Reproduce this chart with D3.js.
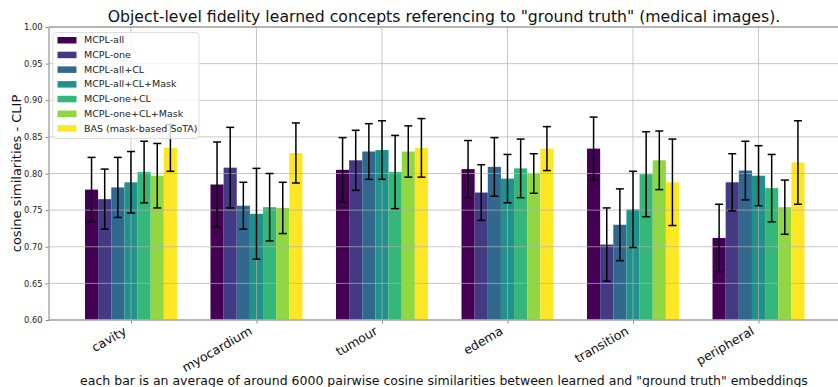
<!DOCTYPE html>
<html>
<head>
<meta charset="utf-8">
<script src="https://cdn.jsdelivr.net/npm/d3@7"></script>
<style>
  html, body { margin: 0; padding: 0; background: #fff; }
  svg { display: block; font-family: "DejaVu Sans", sans-serif; }
</style>
</head>
<body>
<svg id="chart" width="838" height="387"></svg>
<script>
// Regions of the medical images
const categories = ["cavity", "myocardium", "tumour", "edema", "transition", "peripheral"];

// Model variants (one bar per variant within each region)
const seriesNames = [
  "MCPL-all", "MCPL-one", "MCPL-all+CL", "MCPL-all+CL+Mask",
  "MCPL-one+CL", "MCPL-one+CL+Mask", "BAS (mask-based SoTA)"
];
const seriesColors = ["#440154", "#443983", "#31688e", "#21918c", "#35b779", "#90d743", "#fde725"];

// Mean cosine similarity per variant, ordered by category
const mcplAll          = [0.778, 0.785, 0.805, 0.806, 0.834, 0.712];
const mcplOne          = [0.765, 0.808, 0.818, 0.774, 0.703, 0.788];
const mcplAllCL        = [0.781, 0.756, 0.830, 0.809, 0.730, 0.804];
const mcplAllCLMask    = [0.788, 0.745, 0.832, 0.793, 0.751, 0.797];
const mcplOneCL        = [0.802, 0.754, 0.802, 0.807, 0.799, 0.780];
const mcplOneCLMask    = [0.797, 0.753, 0.830, 0.800, 0.818, 0.754];
const bas              = [0.835, 0.828, 0.835, 0.834, 0.788, 0.815];

// Standard deviations (error bar half-lengths)
const mcplAllErr       = [0.044, 0.058, 0.044, 0.039, 0.043, 0.046];
const mcplOneErr       = [0.041, 0.055, 0.041, 0.038, 0.050, 0.039];
const mcplAllCLErr     = [0.041, 0.032, 0.038, 0.040, 0.049, 0.040];
const mcplAllCLMaskErr = [0.042, 0.062, 0.040, 0.033, 0.052, 0.041];
const mcplOneCLErr     = [0.042, 0.046, 0.050, 0.040, 0.058, 0.046];
const mcplOneCLMaskErr = [0.044, 0.035, 0.035, 0.027, 0.040, 0.037];
const basErr           = [0.032, 0.041, 0.040, 0.030, 0.059, 0.057];

const yTicks = [0.60, 0.65, 0.70, 0.75, 0.80, 0.85, 0.90, 0.95, 1.00];

const seriesValues = [mcplAll, mcplOne, mcplAllCL, mcplAllCLMask, mcplOneCL, mcplOneCLMask, bas];
const seriesErrors = [mcplAllErr, mcplOneErr, mcplAllCLErr, mcplAllCLMaskErr, mcplOneCLErr, mcplOneCLMaskErr, basErr];

const svg = d3.select("#chart");
const plot = { left: 49, top: 27, bottom: 320, right: 840.5 };

// Bar layout in category units
const barW = 0.1047;
const nSeries = seriesNames.length;
const groupHalf = barW * nSeries / 2;
const margin = 0.05 * (categories.length - 1 + 2 * groupHalf);

const x = d3.scaleLinear()
  .domain([-groupHalf - margin, categories.length - 1 + groupHalf + margin])
  .range([plot.left, plot.right]);
const y = d3.scaleLinear().domain([0.6, 1.0]).range([plot.bottom, plot.top]);

const barPx = x(barW) - x(0);

// Flatten into one record per bar
const bars = [];
seriesValues.forEach((vals, s) => {
  vals.forEach((v, c) => {
    bars.push({ s, c, v, e: seriesErrors[s][c] });
  });
});
const barX = d => x(d.c - groupHalf + d.s * barW);

svg.append("g").selectAll("rect")
  .data(bars).join("rect")
  .attr("x", barX)
  .attr("y", d => y(d.v))
  .attr("width", barPx)
  .attr("height", d => y(0.6) - y(d.v))
  .attr("fill", d => seriesColors[d.s]);

// Grid lines over the bars
const grid = svg.append("g").attr("stroke", "#b0b0b0").attr("stroke-opacity", 0.7).attr("stroke-width", 1);
grid.selectAll("line.h").data(yTicks).join("line")
  .attr("class", "h")
  .attr("x1", plot.left).attr("x2", plot.right)
  .attr("y1", d => y(d)).attr("y2", d => y(d));
grid.selectAll("line.v").data(categories).join("line")
  .attr("class", "v")
  .attr("x1", (d, i) => x(i)).attr("x2", (d, i) => x(i))
  .attr("y1", plot.top).attr("y2", plot.bottom);

// Error bars
const capHalf = 4;
const err = svg.append("g").attr("stroke", "#000").attr("stroke-width", 1.5);
const errG = err.selectAll("g").data(bars).join("g");
errG.append("line")
  .attr("x1", d => barX(d) + barPx / 2).attr("x2", d => barX(d) + barPx / 2)
  .attr("y1", d => y(d.v + d.e)).attr("y2", d => y(d.v - d.e));
errG.append("line")
  .attr("x1", d => barX(d) + barPx / 2 - capHalf).attr("x2", d => barX(d) + barPx / 2 + capHalf)
  .attr("y1", d => y(d.v + d.e)).attr("y2", d => y(d.v + d.e));
errG.append("line")
  .attr("x1", d => barX(d) + barPx / 2 - capHalf).attr("x2", d => barX(d) + barPx / 2 + capHalf)
  .attr("y1", d => y(d.v - d.e)).attr("y2", d => y(d.v - d.e));

// Axes
const yAxis = d3.axisLeft(y).tickValues(yTicks).tickFormat(d3.format(".2f")).tickSize(3.5).tickPadding(3);
const yg = svg.append("g").attr("transform", `translate(${plot.left},0)`).call(yAxis);
yg.select(".domain").remove();
yg.selectAll("line").attr("stroke", "#888");
yg.selectAll("text").attr("font-size", 8.3).attr("fill", "#222").attr("font-family", "DejaVu Sans");

const xAxis = d3.axisBottom(x).tickValues(d3.range(categories.length)).tickFormat(i => categories[i]).tickSize(3.5);
const xg = svg.append("g").attr("transform", `translate(0,${plot.bottom})`).call(xAxis);
xg.select(".domain").remove();
xg.selectAll("line").attr("stroke", "#888");
// Category labels rotated 30°, right end hanging just below each tick
xg.selectAll(".tick text")
  .attr("font-size", 12.5).attr("fill", "#111").attr("font-family", "DejaVu Sans")
  .attr("text-anchor", "end")
  .attr("x", 0).attr("y", 0).attr("dy", 0)
  .attr("transform", "translate(-4,13.5) rotate(-30)");

// Spines
svg.append("line").attr("x1", plot.left).attr("x2", plot.left).attr("y1", plot.top).attr("y2", plot.bottom)
  .attr("stroke", "#aaa").attr("stroke-width", 1.5);
svg.append("line").attr("x1", plot.left).attr("x2", plot.right).attr("y1", plot.bottom).attr("y2", plot.bottom)
  .attr("stroke", "#aaa").attr("stroke-width", 1.5);
svg.append("line").attr("x1", plot.left).attr("x2", plot.right).attr("y1", plot.top).attr("y2", plot.top)
  .attr("stroke", "#888").attr("stroke-width", 1);

// Legend
const lg = svg.append("g").attr("transform", "translate(53,32.5)");
lg.append("rect").attr("width", 146).attr("height", 106).attr("rx", 3)
  .attr("fill", "#fff").attr("fill-opacity", 0.8).attr("stroke", "#ddd");
const item = lg.selectAll("g").data(seriesNames).join("g")
  .attr("transform", (d, i) => `translate(0,${7.5 + i * 14.7})`);
item.append("rect").attr("x", 4.5).attr("y", -3).attr("width", 19).attr("height", 6.5)
  .attr("fill", (d, i) => seriesColors[i]);
item.append("text").attr("x", 31).attr("y", 0).attr("dy", "0.35em")
  .attr("font-size", 9.5).attr("fill", "#222").text(d => d);

// Titles
svg.append("text").attr("x", 444).attr("y", 22).attr("text-anchor", "middle")
  .attr("font-size", 15.7).attr("fill", "#111")
  .text('Object-level fidelity learned concepts referencing to "ground truth" (medical images).');
svg.append("text").attr("x", 444).attr("y", 384.5).attr("text-anchor", "middle")
  .attr("font-size", 12.5).attr("fill", "#111")
  .text('each bar is an average of around 6000 pairwise cosine similarities between learned and "ground truth" embeddings');
svg.append("text").attr("transform", `translate(21,${(plot.top + plot.bottom) / 2}) rotate(-90)`)
  .attr("text-anchor", "middle").attr("font-size", 13).attr("fill", "#111")
  .text("cosine similarities - CLIP");
</script>
</body>
</html>
